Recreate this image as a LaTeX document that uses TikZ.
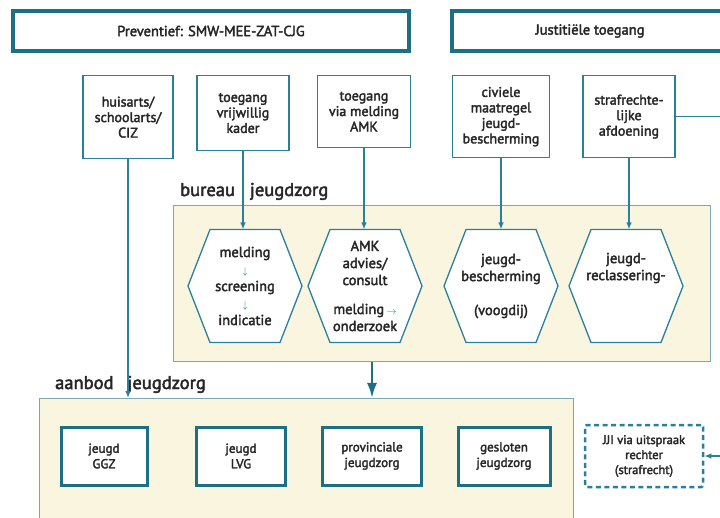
\documentclass[tikz,border=0pt]{standalone}
\usepackage{fontspec}
\setmainfont{PT Sans}[FakeBold=2.5]
\usetikzlibrary{arrows.meta,backgrounds}

\definecolor{zorgteal}{HTML}{1D6F86}
\definecolor{lineteal}{HTML}{2A809B}
\definecolor{panelfill}{HTML}{FAF5DF}
\definecolor{panelline}{HTML}{79A7B3}
\definecolor{inktext}{HTML}{262626}

\newcommand{\pijl}[1]{\textcolor{lineteal}{$\scriptstyle#1$}}

\tikzset{
  headbox/.style={draw=zorgteal, line width=3.5pt, text=inktext,
    font=\fontsize{14.5}{16}\selectfont, inner sep=0pt},
  entrybox/.style={draw=lineteal, line width=1.3pt, fill=white, text=inktext,
    align=center, anchor=north, inner sep=1pt,
    font=\fontsize{14}{15.5}\selectfont},
  hexa/.style={minimum width=114pt, minimum height=113pt, inner sep=0pt,
    outer sep=0pt, align=center, text=inktext,
    font=\fontsize{14.5}{17}\selectfont},
  hexline/.style={draw=lineteal, line width=1.3pt, fill=white},
  panel/.style={fill=panelfill, draw=panelline, line width=0.8pt,
    anchor=north west, inner sep=0pt},
  panellabel/.style={anchor=base west, text=inktext, inner sep=0pt,
    font=\fontsize{18.5}{20}\selectfont},
  zorgbox/.style={draw=zorgteal, line width=3pt, fill=white, text=inktext,
    align=center, minimum height=58pt, inner sep=2pt,
    font=\fontsize{13}{15.5}\selectfont},
  jjibox/.style={draw=lineteal, line width=2.5pt, dash pattern=on 5pt off 3.5pt,
    rounded corners=2pt, fill=white, text=inktext, align=center,
    minimum width=118pt, minimum height=62pt, inner sep=2pt,
    font=\fontsize{12.5}{15}\selectfont},
  link/.style={draw=lineteal, line width=1.3pt, -{Latex[length=7pt,width=5.5pt]}},
}

\begin{document}
\begin{tikzpicture}[x=1pt, y=-1pt]
  \useasboundingbox (0,0) rectangle (720,518);

  % kopregel
  \node[headbox, minimum width=396pt, minimum height=40pt] (prev) at (211,31) {Preventief: SMW-MEE-ZAT-CJG};
  \node[headbox, minimum width=276pt, minimum height=40pt] (just) at (590,31) {Justitiële toegang};

  % toegangen
  \node[entrybox, minimum width=90pt, minimum height=83pt] (huis) at (128,75) {huisarts/\\schoolarts/\\CIZ};
  \node[entrybox, minimum width=92pt, minimum height=75pt] (vrij) at (243,75) {toegang\\vrijwillig\\kader};
  \node[entrybox, minimum width=93pt, minimum height=72pt] (amk) at (364,75) {toegang\\via melding\\AMK};
  \node[entrybox, minimum width=97pt, minimum height=82pt] (civ) at (501,75) {civiele\\maatregel\\jeugd-\\bescherming};
  \node[entrybox, minimum width=92pt, minimum height=82pt] (straf) at (629,75) {strafrechte-\\lijke\\afdoening};

  % bureau jeugdzorg
  \node[panellabel] (bjlabel) at (180,196) {bureau\hspace{15pt}jeugdzorg};
  \node[hexa] (hmeld) at (245,286) {melding\\\pijl{\downarrow}\\screening\\\pijl{\downarrow}\\indicatie};
  \node[hexa] (hamk) at (365,286) {AMK\\advies/\\consult\\[12pt]melding\,\pijl{\rightarrow}\\onderzoek};
  \node[hexa] (hjb) at (501,286) {jeugd-\\bescherming\\[17pt](voogdij)};
  \node[hexa] (hjr) at (626,286) {jeugd-\\reclassering-\\[17pt]\strut};

  % aanbod jeugdzorg
  \node[panellabel] (ajlabel) at (55,389) {aanbod\hspace{14pt}jeugdzorg};
  \node[zorgbox, minimum width=86pt] (ggz) at (104,456) {jeugd\\GGZ};
  \node[zorgbox, minimum width=89pt] (lvg) at (241,456) {jeugd\\LVG};
  \node[zorgbox, minimum width=99pt] (prov) at (372,456) {provinciale\\jeugdzorg};
  \node[zorgbox, minimum width=92pt] (gesl) at (504,456) {gesloten\\jeugdzorg};
  \node[jjibox] (jji) at (644,456) {JJI via uitspraak\\rechter\\(strafrecht)};

  \begin{scope}[on background layer]
    \node[panel, minimum width=537pt, minimum height=156pt] (bureau) at (173,205) {};
    \node[panel, minimum width=534pt, minimum height=140pt] (aanbod) at (39,398) {};
    \draw[hexline] (hmeld.west) -- ([xshift=22pt]hmeld.north west) -- ([xshift=-22pt]hmeld.north east) -- (hmeld.east) -- ([xshift=-22pt]hmeld.south east) -- ([xshift=22pt]hmeld.south west) -- cycle;
    \draw[hexline] (hamk.west) -- ([xshift=22pt]hamk.north west) -- ([xshift=-22pt]hamk.north east) -- (hamk.east) -- ([xshift=-22pt]hamk.south east) -- ([xshift=22pt]hamk.south west) -- cycle;
    \draw[hexline] (hjb.west) -- ([xshift=22pt]hjb.north west) -- ([xshift=-22pt]hjb.north east) -- (hjb.east) -- ([xshift=-22pt]hjb.south east) -- ([xshift=22pt]hjb.south west) -- cycle;
    \draw[hexline] (hjr.west) -- ([xshift=22pt]hjr.north west) -- ([xshift=-22pt]hjr.north east) -- (hjr.east) -- ([xshift=-22pt]hjr.south east) -- ([xshift=22pt]hjr.south west) -- cycle;
  \end{scope}

  % verbindingen
  \coordinate (rand) at (724,0);
  \draw[link] (huis.south) -- (huis.south |- aanbod.north);
  \draw[link] (vrij.south) -- (vrij.south |- hmeld.north);
  \draw[link, line width=1.8pt] (amk.south) -- (amk.south |- hamk.north);
  \draw[link] (civ.south) -- (civ.south |- hjb.north);
  \draw[link, line width=1.8pt] (straf.south) -- (straf.south |- hjr.north);
  \draw[link, draw=zorgteal, line width=2.5pt, -{Latex[length=15pt,width=10pt]}] (prov |- bureau.south) -- (prov |- aanbod.north);
  \draw[link] (straf.east) -- (straf.east -| rand) -- (rand |- jji.east) -- (jji.east);
\end{tikzpicture}
\end{document}
